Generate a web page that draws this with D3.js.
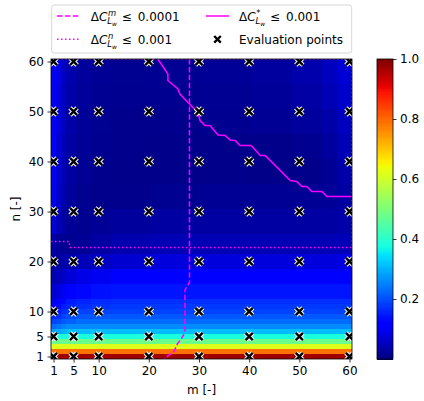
<!DOCTYPE html>
<html>
<head>
<meta charset="utf-8">
<script src="https://cdn.jsdelivr.net/npm/d3@7"></script>
<style>
  body { margin: 0; background: #fff; }
  text { font-family: "DejaVu Sans", sans-serif; fill: #000; }
</style>
</head>
<body>
<svg id="chart" width="424" height="401"></svg>
<script>
// ---- data ----
const tickVals = [1, 5, 10, 20, 30, 40, 50, 60];
const evalM = [1, 5, 10, 20, 30, 40, 50, 60];
const evalN = [1, 5, 10, 20, 30, 40, 50, 60];
const cbTicks = [0.2, 0.4, 0.6, 0.8, 1.0];

// heatmap: each row starts at rowStarts[i] (n), each column block at colStarts[j] (m)
const rowStarts = [1, 2, 3, 4, 5, 6, 7, 8, 9, 10, 11, 12, 13, 16, 19, 22, 26, 31, 36, 41, 46, 51, 56];
const colStarts = [1, 2, 3, 4, 6, 9, 13, 21, 31, 41, 49, 55, 58];
const gridValues = [
  [0.97, 0.97, 0.97, 0.97, 0.97, 0.97, 0.97, 0.97, 0.97, 0.97, 0.97, 0.97, 0.97],
  [0.79, 0.79, 0.79, 0.79, 0.79, 0.79, 0.79, 0.79, 0.79, 0.79, 0.79, 0.79, 0.79],
  [0.62, 0.62, 0.62, 0.62, 0.62, 0.62, 0.62, 0.62, 0.62, 0.62, 0.62, 0.62, 0.62],
  [0.48, 0.48, 0.48, 0.48, 0.48, 0.48, 0.48, 0.48, 0.48, 0.48, 0.48, 0.48, 0.48],
  [0.38, 0.38, 0.38, 0.38, 0.38, 0.38, 0.38, 0.38, 0.38, 0.38, 0.38, 0.38, 0.38],
  [0.28, 0.29, 0.30, 0.31, 0.31, 0.31, 0.31, 0.31, 0.31, 0.31, 0.31, 0.31, 0.31],
  [0.23, 0.24, 0.25, 0.26, 0.26, 0.26, 0.26, 0.26, 0.26, 0.26, 0.26, 0.26, 0.26],
  [0.19, 0.20, 0.21, 0.22, 0.23, 0.23, 0.23, 0.23, 0.23, 0.23, 0.23, 0.23, 0.23],
  [0.16, 0.17, 0.19, 0.20, 0.21, 0.21, 0.21, 0.21, 0.21, 0.21, 0.21, 0.21, 0.21],
  [0.13, 0.15, 0.17, 0.18, 0.19, 0.19, 0.19, 0.19, 0.19, 0.19, 0.19, 0.19, 0.19],
  [0.11, 0.13, 0.15, 0.16, 0.17, 0.175, 0.18, 0.18, 0.18, 0.18, 0.18, 0.18, 0.18],
  [0.09, 0.11, 0.13, 0.15, 0.16, 0.165, 0.17, 0.17, 0.17, 0.17, 0.17, 0.17, 0.17],
  [0.07, 0.08, 0.10, 0.12, 0.13, 0.14, 0.145, 0.145, 0.145, 0.145, 0.145, 0.145, 0.145],
  [0.04, 0.05, 0.06, 0.075, 0.09, 0.10, 0.11, 0.115, 0.115, 0.115, 0.115, 0.115, 0.12],
  [0.025, 0.03, 0.035, 0.04, 0.05, 0.06, 0.07, 0.08, 0.08, 0.08, 0.08, 0.08, 0.085],
  [0.04, 0.02, 0.015, 0.015, 0.02, 0.03, 0.04, 0.045, 0.045, 0.045, 0.045, 0.045, 0.05],
  [0.08, 0.05, 0.03, 0.02, 0.015, 0.02, 0.025, 0.03, 0.03, 0.03, 0.03, 0.03, 0.035],
  [0.10, 0.065, 0.04, 0.025, 0.015, 0.012, 0.012, 0.015, 0.018, 0.018, 0.018, 0.022, 0.03],
  [0.105, 0.07, 0.045, 0.03, 0.018, 0.012, 0.01, 0.01, 0.01, 0.008, 0.01, 0.018, 0.035],
  [0.11, 0.075, 0.05, 0.032, 0.02, 0.014, 0.012, 0.01, 0.01, 0.01, 0.014, 0.025, 0.045],
  [0.11, 0.08, 0.055, 0.035, 0.022, 0.015, 0.012, 0.012, 0.014, 0.018, 0.025, 0.035, 0.055],
  [0.11, 0.08, 0.055, 0.037, 0.024, 0.017, 0.014, 0.014, 0.017, 0.022, 0.032, 0.045, 0.065],
  [0.115, 0.085, 0.06, 0.04, 0.025, 0.018, 0.015, 0.016, 0.02, 0.026, 0.038, 0.055, 0.075]
];

// contour lines (m, n)
const dashM = [28.1, 28.1, 27.6, 27.2, 27.2, 26.5, 25.7, 25.0, 23.0];
const dashN = [60.5, 15.8, 15.0, 14.3, 5.8, 4.6, 3.5, 2.0, 0.5];
const dotM = [0.5, 4.1, 4.3, 60.5, 60.5, 0.5];
const dotN = [24.0, 24.0, 22.8, 22.8, 60.5, 60.5];
const solidM = [21.8, 23.8, 23.8, 25.8, 26.2, 27.8, 29.8, 30.2, 31.2, 32.2, 33.8, 35.2, 36.2, 37.2, 38.2, 40.4, 42.2, 43.2, 48.2, 49.5, 50.5, 51.5, 52.5, 54.5, 55.5, 60.5];
const solidN = [60.5, 57.5, 56.2, 54.5, 53.5, 51.8, 49.8, 48.2, 47.2, 47.2, 45.3, 45.2, 44.3, 44.2, 43.2, 43.2, 41.2, 41.2, 36.2, 36.0, 35.0, 35.0, 34.0, 34.0, 33.0, 33.0];

// ---- setup ----
const svg = d3.select("#chart");
const plot = { left: 51, right: 352, top: 59, bottom: 359 };

const xScale = d3.scaleLinear().domain([0.5, 60.5]).range([plot.left, plot.right]);
const yScale = d3.scaleLinear().domain([0.5, 60.5]).range([plot.bottom, plot.top]);

// matplotlib "jet" as three piecewise linear channels
const jetR = d3.scaleLinear().domain([0, 0.35, 0.66, 0.89, 1]).range([0, 0, 1, 1, 0.5]).clamp(true);
const jetG = d3.scaleLinear().domain([0, 0.125, 0.375, 0.64, 0.91, 1]).range([0, 0, 1, 1, 0, 0]).clamp(true);
const jetB = d3.scaleLinear().domain([0, 0.11, 0.34, 0.65, 1]).range([0.5, 1, 1, 0, 0]).clamp(true);
const jet = v => d3.rgb(jetR(v) * 255, jetG(v) * 255, jetB(v) * 255).toString();

svg.append("defs").append("clipPath").attr("id", "plotClip")
  .append("rect")
  .attr("x", plot.left).attr("y", plot.top)
  .attr("width", plot.right - plot.left).attr("height", plot.bottom - plot.top);

const area = svg.append("g").attr("clip-path", "url(#plotClip)");

// heatmap cells
const cells = [];
rowStarts.forEach((n0, i) => {
  const n1 = i + 1 < rowStarts.length ? rowStarts[i + 1] : 61;
  colStarts.forEach((m0, j) => {
    const m1 = j + 1 < colStarts.length ? colStarts[j + 1] : 61;
    cells.push({ m0, m1, n0, n1, v: gridValues[i][j] });
  });
});
area.selectAll("rect.cell").data(cells).join("rect")
  .attr("class", "cell")
  .attr("x", d => xScale(d.m0 - 0.5))
  .attr("y", d => yScale(d.n1 - 0.5))
  .attr("width", d => xScale(d.m1 - 0.5) - xScale(d.m0 - 0.5) + 0.3)
  .attr("height", d => yScale(d.n0 - 0.5) - yScale(d.n1 - 0.5) + 0.3)
  .attr("fill", d => jet(d.v))
  .attr("shape-rendering", "crispEdges");

// contour lines
const line = d3.line().x(d => xScale(d[0])).y(d => yScale(d[1]));
area.append("path").datum(d3.zip(dashM, dashN)).attr("d", line)
  .attr("fill", "none").attr("stroke", "#ff00ff").attr("stroke-width", 1.5)
  .attr("stroke-dasharray", "5.5,2.4");
area.append("path").datum(d3.zip(dotM, dotN)).attr("d", line)
  .attr("fill", "none").attr("stroke", "#ff00ff").attr("stroke-width", 1.5)
  .attr("stroke-dasharray", "1.5,2.5");
area.append("path").datum(d3.zip(solidM, solidN)).attr("d", line)
  .attr("fill", "none").attr("stroke", "#ff00ff").attr("stroke-width", 1.5);

// evaluation points
const xMark = r => `M${-r},${-r}L${r},${r}M${-r},${r}L${r},${-r}`;
const pts = d3.cross(evalM, evalN);
area.selectAll("path.mkw").data(pts).join("path")
  .attr("class", "mkw")
  .attr("transform", d => `translate(${xScale(d[0])},${yScale(d[1])})`)
  .attr("d", xMark(3.6))
  .attr("stroke", "#fff").attr("stroke-width", 4.4).attr("fill", "none");
area.selectAll("path.mkb").data(pts).join("path")
  .attr("class", "mkb")
  .attr("transform", d => `translate(${xScale(d[0])},${yScale(d[1])})`)
  .attr("d", xMark(3.6))
  .attr("stroke", "#000").attr("stroke-width", 2.4).attr("fill", "none");

// axes
const xAxis = svg.append("g").attr("transform", `translate(0,${plot.bottom})`)
  .call(d3.axisBottom(xScale).tickValues(tickVals).tickSize(3.5).tickPadding(3.5));
const yAxis = svg.append("g").attr("transform", `translate(${plot.left},0)`)
  .call(d3.axisLeft(yScale).tickValues(tickVals).tickSize(3.5).tickPadding(3.5));
[xAxis, yAxis].forEach(ax => {
  ax.select(".domain").remove();
  ax.selectAll(".tick line").attr("stroke", "#000").attr("stroke-width", 0.8);
  ax.selectAll(".tick text").attr("font-size", 12).attr("font-family", "DejaVu Sans").attr("fill", "#000");
});

svg.append("rect")
  .attr("x", plot.left).attr("y", plot.top)
  .attr("width", plot.right - plot.left).attr("height", plot.bottom - plot.top)
  .attr("fill", "none").attr("stroke", "#000").attr("stroke-width", 0.8);

svg.append("text").attr("x", (plot.left + plot.right) / 2).attr("y", 394)
  .attr("text-anchor", "middle").attr("font-size", 12).text("m [-]");
svg.append("text").attr("transform", `translate(19.5,${(plot.top + plot.bottom) / 2}) rotate(-90)`)
  .attr("text-anchor", "middle").attr("font-size", 12).text("n [-]");

// colorbar
const cb = { x: 377, w: 16 };
const cScale = d3.scaleLinear().domain([0, 1]).range([plot.bottom, plot.top]);
const steps = d3.range(0, 1, 1 / 256);
svg.append("g").selectAll("rect").data(steps).join("rect")
  .attr("x", cb.x).attr("width", cb.w)
  .attr("y", d => cScale(d + 1 / 256))
  .attr("height", d => cScale(d) - cScale(d + 1 / 256) + 0.5)
  .attr("fill", d => jet(d + 0.5 / 256))
  .attr("shape-rendering", "crispEdges");
svg.append("rect").attr("x", cb.x).attr("y", plot.top).attr("width", cb.w)
  .attr("height", plot.bottom - plot.top)
  .attr("fill", "none").attr("stroke", "#000").attr("stroke-width", 0.8);
const cAxis = svg.append("g").attr("transform", `translate(${cb.x + cb.w},0)`)
  .call(d3.axisRight(cScale).tickValues(cbTicks).tickFormat(d3.format(".1f")).tickSize(3.5).tickPadding(3.5));
cAxis.select(".domain").remove();
cAxis.selectAll(".tick line").attr("stroke", "#000").attr("stroke-width", 0.8);
cAxis.selectAll(".tick text").attr("font-size", 12).attr("font-family", "DejaVu Sans").attr("fill", "#000");

// legend
const leg = svg.append("g");
leg.append("rect").attr("x", 51.7).attr("y", 5).attr("width", 300).attr("height", 48)
  .attr("rx", 2.5).attr("fill", "#fff").attr("fill-opacity", 0.8)
  .attr("stroke", "#cccccc").attr("stroke-width", 0.8);

// one text element per label: ΔC with stacked super/subscript, then "≤ value"
function mathLabel(x, y, sup, value) {
  const probe = leg.append("text").attr("font-size", 12).text("Δ");
  const wD = probe.node().getComputedTextLength();
  probe.attr("font-style", "italic").text("C");
  const wC = probe.node().getComputedTextLength();
  probe.attr("font-size", 8.4).text("L");
  const wL = probe.node().getComputedTextLength();
  probe.remove();
  const base = x + wD + wC;
  const t = leg.append("text").attr("x", x).attr("y", y).attr("font-size", 12);
  t.append("tspan").text("Δ");
  t.append("tspan").attr("font-style", "italic").text("C");
  t.append("tspan").attr("x", base + 0.6).attr("y", y - 5).attr("font-size", 8.4)
    .attr("font-style", sup === "*" ? "normal" : "italic").text(sup);
  t.append("tspan").attr("x", base).attr("y", y + 3).attr("font-size", 8.4)
    .attr("font-style", "italic").text("L");
  t.append("tspan").attr("x", base + wL).attr("y", y + 5).attr("font-size", 6)
    .attr("font-style", "italic").text("w");
  t.append("tspan").attr("x", x + 31).attr("y", y).text("≤");
  t.append("tspan").attr("x", x + 47).attr("y", y).text(value);
}

const rows = [16, 39.3];
leg.append("line").attr("x1", 57).attr("x2", 80).attr("y1", rows[0]).attr("y2", rows[0])
  .attr("stroke", "#ff00ff").attr("stroke-width", 1.5).attr("stroke-dasharray", "5.5,2.4");
mathLabel(90.7, rows[0] + 4.5, "m", "0.0001");
leg.append("line").attr("x1", 57).attr("x2", 80).attr("y1", rows[1]).attr("y2", rows[1])
  .attr("stroke", "#ff00ff").attr("stroke-width", 1.5).attr("stroke-dasharray", "1.5,2.5");
mathLabel(90.7, rows[1] + 4.5, "n", "0.001");
leg.append("line").attr("x1", 206).attr("x2", 229).attr("y1", rows[0]).attr("y2", rows[0])
  .attr("stroke", "#ff00ff").attr("stroke-width", 1.5);
mathLabel(239, rows[0] + 4.5, "*", "0.001");
leg.append("path").attr("transform", `translate(217.5,${rows[1]})`).attr("d", xMark(3.3))
  .attr("stroke", "#000").attr("stroke-width", 2.4).attr("fill", "none");
leg.append("text").attr("x", 239).attr("y", rows[1] + 4.5).attr("font-size", 12).text("Evaluation points");
</script>
</body>
</html>
